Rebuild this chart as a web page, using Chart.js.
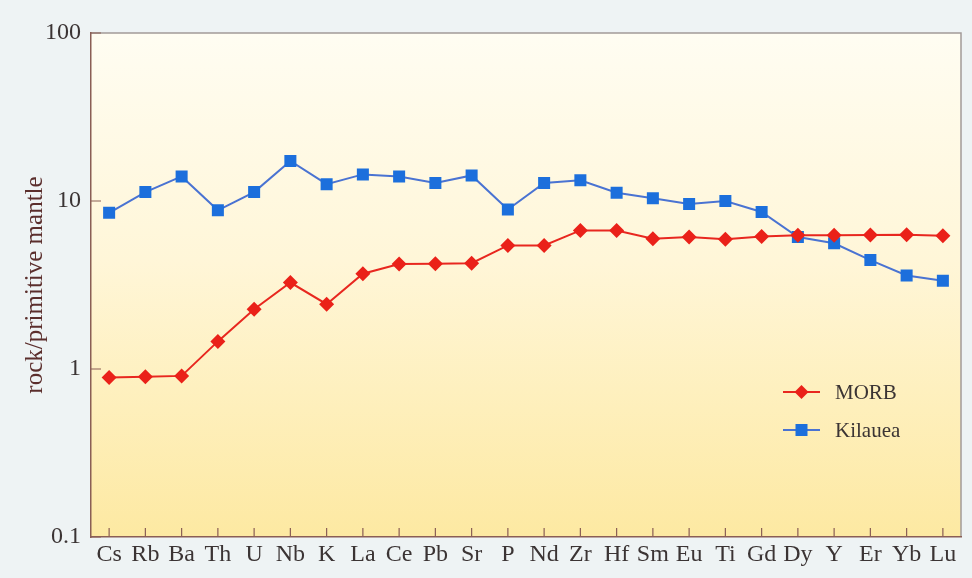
<!DOCTYPE html>
<html>
<head>
<meta charset="utf-8">
<script src="https://cdn.jsdelivr.net/npm/chart.js@4.4.0/dist/chart.umd.min.js"></script>
<style>
  html, body { margin: 0; padding: 0; background: #eef3f4; }
  #wrap { width: 972px; height: 578px; }
</style>
</head>
<body>
<div id="wrap"><canvas id="spider" width="972" height="578"></canvas></div>
<script>
// Element order along the x axis
const elements = ['Cs', 'Rb', 'Ba', 'Th', 'U', 'Nb', 'K', 'La', 'Ce', 'Pb', 'Sr', 'P',
                  'Nd', 'Zr', 'Hf', 'Sm', 'Eu', 'Ti', 'Gd', 'Dy', 'Y', 'Er', 'Yb', 'Lu'];

// rock / primitive mantle
const morb = [0.89, 0.90, 0.91, 1.46, 2.27, 3.27, 2.43, 3.69, 4.22, 4.23, 4.26, 5.44,
              5.44, 6.68, 6.68, 5.96, 6.10, 5.93, 6.15, 6.25, 6.25, 6.27, 6.30, 6.22];
const kilauea = [8.5, 11.3, 14.0, 8.8, 11.3, 17.3, 12.6, 14.4, 14.0, 12.8, 14.2, 8.9,
                 12.8, 13.3, 11.2, 10.4, 9.6, 10.0, 8.6, 6.1, 5.6, 4.45, 3.6, 3.35];

const yTicks = [0.1, 1, 10, 100];

const AXIS = '#8a5e55';
const TEXT = '#3b3434';
const SERIF = "'Liberation Serif', 'DejaVu Serif', serif";

// yellowish gradient behind the plot, plus thin frame on top/right
const plotBackground = {
    id: 'plotBackground',
    beforeDraw(chart) {
        const { ctx, chartArea: a } = chart;
        const g = ctx.createLinearGradient(0, a.top, 0, a.bottom);
        g.addColorStop(0, '#fffdf2');
        g.addColorStop(0.45, '#fff6d8');
        g.addColorStop(1, '#fde9a2');
        ctx.save();
        ctx.fillStyle = g;
        ctx.fillRect(a.left, a.top, a.right - a.left, a.bottom - a.top);
        ctx.strokeStyle = '#a39a98';
        ctx.lineWidth = 1.5;
        ctx.beginPath();
        ctx.moveTo(a.left, a.top);
        ctx.lineTo(a.right, a.top);
        ctx.lineTo(a.right, a.bottom);
        ctx.stroke();
        ctx.restore();
    }
};

// short ticks pointing into the plot
const innerTicks = {
    id: 'innerTicks',
    afterDraw(chart) {
        const { ctx, chartArea: a, scales } = chart;
        ctx.save();
        ctx.strokeStyle = AXIS;
        ctx.lineWidth = 1.2;
        ctx.beginPath();
        scales.y.ticks.forEach((t, i) => {
            const py = scales.y.getPixelForTick(i);
            ctx.moveTo(a.left, py);
            ctx.lineTo(a.left + 10, py);
        });
        scales.x.ticks.forEach((t, i) => {
            const px = scales.x.getPixelForTick(i);
            ctx.moveTo(px, a.bottom);
            ctx.lineTo(px, a.bottom - 9);
        });
        ctx.stroke();
        ctx.restore();
    }
};

// legend inside the plot, lower right
const insideLegend = {
    id: 'insideLegend',
    afterDraw(chart) {
        const { ctx, chartArea: a } = chart;
        const x0 = a.right - 178;
        let y = a.top + 359;
        ctx.save();
        chart.data.datasets.forEach((ds) => {
            ctx.strokeStyle = ds.borderColor;
            ctx.lineWidth = 2;
            ctx.beginPath();
            ctx.moveTo(x0, y);
            ctx.lineTo(x0 + 37, y);
            ctx.stroke();
            ctx.fillStyle = ds.pointBackgroundColor;
            ctx.beginPath();
            const cx = x0 + 18.5;
            if (ds.pointStyle === 'rectRot') {
                const r = 7;
                ctx.moveTo(cx, y - r);
                ctx.lineTo(cx + r, y);
                ctx.lineTo(cx, y + r);
                ctx.lineTo(cx - r, y);
                ctx.closePath();
            } else {
                ctx.rect(cx - 6, y - 6, 12, 12);
            }
            ctx.fill();
            ctx.fillStyle = TEXT;
            ctx.font = '21px ' + SERIF;
            ctx.textBaseline = 'middle';
            ctx.fillText(ds.label, x0 + 52, y + 1);
            y += 38;
        });
        ctx.restore();
    }
};

const ctx = document.getElementById('spider').getContext('2d');
new Chart(ctx, {
    type: 'line',
    data: {
        labels: elements,
        datasets: [
            {
                label: 'MORB',
                data: morb,
                borderColor: '#e8271f',
                borderWidth: 2,
                pointStyle: 'rectRot',
                pointRadius: 7.5,
                pointBackgroundColor: '#ea2119',
                pointBorderColor: '#ea2119',
                pointBorderWidth: 0,
                tension: 0
            },
            {
                label: 'Kilauea',
                data: kilauea,
                borderColor: '#4a73d2',
                borderWidth: 2,
                pointStyle: 'rect',
                pointRadius: 8.5,
                pointBackgroundColor: '#1c6fdc',
                pointBorderColor: '#1c6fdc',
                pointBorderWidth: 0,
                tension: 0
            }
        ]
    },
    options: {
        responsive: false,
        animation: false,
        layout: { padding: { left: 0, top: 33, right: 11, bottom: 0 } },
        plugins: {
            legend: { display: false },
            tooltip: { enabled: false }
        },
        scales: {
            x: {
                offset: true,
                grid: { display: false, drawTicks: false },
                border: { display: true, color: AXIS, width: 1.5 },
                ticks: {
                    color: TEXT,
                    font: { family: SERIF, size: 24 },
                    padding: 3,
                    maxRotation: 0,
                    autoSkip: false
                },
                afterFit(scale) { scale.height = 41; }
            },
            y: {
                type: 'logarithmic',
                min: 0.1,
                max: 100,
                grid: { display: false, drawTicks: false },
                border: { display: true, color: AXIS, width: 1.5 },
                afterBuildTicks(scale) {
                    scale.ticks = yTicks.map(v => ({ value: v }));
                },
                ticks: {
                    color: TEXT,
                    font: { family: SERIF, size: 24 },
                    padding: 10,
                    callback: (v) => String(v)
                },
                title: {
                    display: true,
                    text: 'rock/primitive mantle',
                    color: '#5b2e2c',
                    font: { family: SERIF, size: 25 },
                    padding: { top: 20, bottom: 0 }
                },
                afterFit(scale) { scale.width = 91; }
            }
        }
    },
    plugins: [plotBackground, innerTicks, insideLegend]
});
</script>
</body>
</html>
